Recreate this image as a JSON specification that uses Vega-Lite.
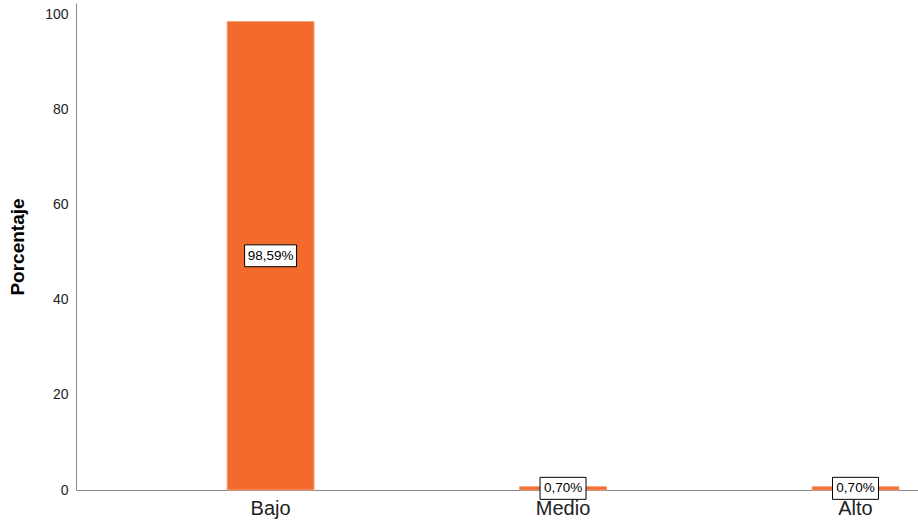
{
  "$schema": "https://vega.github.io/schema/vega-lite/v6.json",
  "width": 842,
  "height": 487,
  "autosize": {"type": "none"},
  "padding": {"left": 76, "top": 3, "right": 0, "bottom": 34},
  "background": "white",
  "config": {
    "view": {"stroke": null},
    "font": "Liberation Sans"
  },
  "data": {
    "values": [
      {"nivel": "Bajo", "porcentaje": 98.59, "label": "98,59%"},
      {"nivel": "Medio", "porcentaje": 0.70, "label": "0,70%"},
      {"nivel": "Alto", "porcentaje": 0.70, "label": "0,70%"}
    ]
  },
  "encoding": {
    "x": {
      "field": "nivel",
      "type": "nominal",
      "sort": ["Bajo", "Medio", "Alto"],
      "scale": {"paddingInner": 0.703, "paddingOuter": 0.291, "align": 0.888},
      "axis": {
        "title": null,
        "ticks": false,
        "labelAngle": 0,
        "labelFontSize": 20,
        "labelColor": "#222222",
        "labelPadding": 8,
        "domainColor": "#888888",
        "domainWidth": 1
      }
    }
  },
  "layer": [
    {
      "mark": {"type": "bar", "color": "#f26a2c", "stroke": "#f7a07a", "strokeWidth": 1},
      "encoding": {
        "y": {
          "field": "porcentaje",
          "type": "quantitative",
          "scale": {"domain": [0, 102.5], "nice": false},
          "axis": {
            "title": "Porcentaje",
            "titleFontSize": 19,
            "titleFontWeight": "bold",
            "titleColor": "#000000",
            "titlePadding": 17,
            "values": [0, 20, 40, 60, 80, 100],
            "ticks": false,
            "grid": false,
            "labelFontSize": 14,
            "labelColor": "#222222",
            "labelPadding": 8,
            "domainColor": "#888888",
            "domainWidth": 1
          }
        }
      }
    },
    {
      "transform": [
        {"filter": "datum.porcentaje > 50"},
        {"calculate": "datum.porcentaje / 2", "as": "mid"}
      ],
      "mark": {
        "type": "point",
        "shape": "M-1,-0.42H1V0.42H-1Z",
        "size": 2704,
        "filled": true,
        "fill": "white",
        "stroke": "black",
        "strokeWidth": 1,
        "opacity": 1
      },
      "encoding": {
        "y": {"field": "mid", "type": "quantitative"}
      }
    },
    {
      "transform": [
        {"filter": "datum.porcentaje <= 50"},
        {"calculate": "datum.porcentaje / 2", "as": "mid"}
      ],
      "mark": {
        "type": "point",
        "shape": "M-1,-0.478H1V0.478H-1Z",
        "size": 2116,
        "filled": true,
        "fill": "white",
        "stroke": "black",
        "strokeWidth": 1,
        "opacity": 1
      },
      "encoding": {
        "y": {"field": "mid", "type": "quantitative"}
      }
    },
    {
      "transform": [{"calculate": "datum.porcentaje / 2", "as": "mid"}],
      "mark": {"type": "text", "fontSize": 13.5, "color": "black", "align": "center", "baseline": "middle"},
      "encoding": {
        "y": {"field": "mid", "type": "quantitative"},
        "text": {"field": "label"}
      }
    }
  ]
}
